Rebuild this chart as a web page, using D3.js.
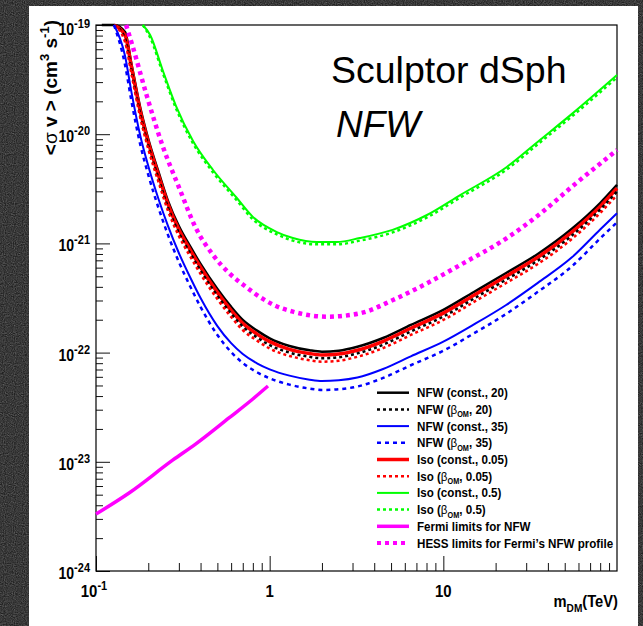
<!DOCTYPE html>
<html>
<head>
<meta charset="utf-8">
<script src="https://d3js.org/d3.v7.min.js"></script>
<style>
  body { margin: 0; background: #232323; }
  text { font-family: 'Liberation Sans', Arial, sans-serif; }
</style>
</head>
<body>
<div id="chart"></div>
<script>
var width = 643, height = 626;

// masses (TeV) shared by the NFW / Iso 0.05 curves
var massGrid = [0.108, 0.127, 0.147, 0.16, 0.18, 0.2, 0.23, 0.26, 0.3, 0.35, 0.4, 0.5, 0.6, 0.7, 0.85,
                1, 1.3, 1.7, 2, 2.5, 3.2, 4.5, 6.5, 10, 15, 23, 35, 55, 80, 100];

var nfwConst20 = [1e-19, 1e-19, 8.63e-20, 4.40e-20, 1.74e-20, 9.04e-21, 4.42e-21, 2.44e-21, 1.44e-21, 9.27e-22,
                  6.48e-22, 3.82e-22, 2.62e-22, 1.99e-22, 1.58e-22, 1.35e-22, 1.15e-22, 1.05e-22, 1.02e-22, 1.04e-22,
                  1.13e-22, 1.36e-22, 1.79e-22, 2.46e-22, 3.59e-22, 5.36e-22, 8.00e-22, 1.36e-21, 2.34e-21, 3.43e-21];
var nfwBeta20 = [null, 1e-19, 7.51e-20, 3.83e-20, 1.51e-20, 7.86e-21, 3.85e-21, 2.12e-21, 1.25e-21, 8.06e-22,
                 5.64e-22, 3.32e-22, 2.28e-22, 1.73e-22, 1.37e-22, 1.17e-22, 1.00e-22, 9.14e-23, 8.87e-23, 9.05e-23,
                 9.83e-23, 1.18e-22, 1.56e-22, 2.14e-22, 3.12e-22, 4.66e-22, 6.96e-22, 1.18e-21, 2.04e-21, 2.98e-21];
var nfwConst35 = [null, 1e-19, 5.20e-20, 2.43e-20, 9.64e-21, 5.12e-21, 2.50e-21, 1.44e-21, 8.17e-22, 4.82e-22,
                  3.16e-22, 1.75e-22, 1.22e-22, 9.71e-23, 7.94e-23, 7.03e-23, 6.15e-23, 5.65e-23, 5.50e-23, 5.58e-23,
                  5.91e-23, 7.08e-23, 9.25e-23, 1.26e-22, 1.81e-22, 2.73e-22, 4.35e-22, 7.45e-22, 1.34e-21, 1.89e-21];
var nfwBeta35 = [null, 1e-19, 4.31e-20, 2.01e-20, 7.98e-21, 4.24e-21, 2.07e-21, 1.19e-21, 6.76e-22, 3.99e-22,
                 2.62e-22, 1.45e-22, 1.01e-22, 8.04e-23, 6.57e-23, 5.82e-23, 5.09e-23, 4.68e-23, 4.55e-23, 4.62e-23,
                 4.89e-23, 5.86e-23, 7.66e-23, 1.04e-22, 1.50e-22, 2.26e-22, 3.60e-22, 6.17e-22, 1.11e-21, 1.56e-21];
var isoConst005 = [null, 1e-19, 8.05e-20, 4.11e-20, 1.62e-20, 8.43e-21, 4.12e-21, 2.28e-21, 1.34e-21, 8.65e-22,
                   6.05e-22, 3.56e-22, 2.44e-22, 1.86e-22, 1.47e-22, 1.26e-22, 1.07e-22, 9.80e-23, 9.52e-23, 9.70e-23,
                   1.05e-22, 1.27e-22, 1.67e-22, 2.30e-22, 3.35e-22, 5.00e-22, 7.46e-22, 1.27e-21, 2.18e-21, 3.20e-21];
var isoBeta005 = [null, 1e-19, 6.99e-20, 3.56e-20, 1.41e-20, 7.32e-21, 3.58e-21, 1.98e-21, 1.17e-21, 7.51e-22,
                  5.25e-22, 3.09e-22, 2.12e-22, 1.61e-22, 1.28e-22, 1.09e-22, 9.32e-23, 8.51e-23, 8.26e-23, 8.42e-23,
                  9.15e-23, 1.10e-22, 1.45e-22, 1.99e-22, 2.91e-22, 4.34e-22, 6.48e-22, 1.10e-21, 1.90e-21, 2.78e-21];

// Iso 0.5 curves
var isoMass05 = [0.186, 0.205, 0.243, 0.289, 0.362, 0.472, 0.64, 0.8, 1.1, 1.36, 1.87, 2.44, 3.3, 5.1, 8.05,
                 12.5, 23.2, 36, 55.7, 100];
var isoConst05 = [1e-19, 8.10e-20, 3.79e-20, 1.81e-20, 8.67e-21, 4.70e-21, 2.66e-21, 1.75e-21, 1.27e-21, 1.12e-21,
                  1.03e-21, 1.03e-21, 1.12e-21, 1.33e-21, 1.82e-21, 2.77e-21, 5.01e-21, 8.85e-21, 1.56e-20, 3.48e-20];
var isoBeta05 = [1e-19, 7.7e-20, 3.6e-20, 1.72e-20, 8.24e-21, 4.47e-21, 2.53e-21, 1.66e-21, 1.21e-21, 1.06e-21,
                 9.8e-22, 9.8e-22, 1.06e-21, 1.26e-21, 1.73e-21, 2.63e-21, 4.76e-21, 8.4e-21, 1.48e-20, 3.31e-20];

// HESS limits for Fermi's NFW profile
var hessMass = [0.149, 0.163, 0.194, 0.243, 0.3, 0.376, 0.472, 0.583, 0.731, 0.915, 1.087, 1.362, 2.14, 3.31,
                5.13, 8.05, 12.5, 23.2, 36, 55.7, 100];
var hessNFW = [1e-19, 6.29e-20, 2.38e-20, 7.64e-21, 3.28e-21, 1.38e-21, 7.83e-22, 5.36e-22, 3.99e-22, 3.10e-22,
               2.67e-22, 2.37e-22, 2.13e-22, 2.29e-22, 3.03e-22, 4.31e-22, 6.34e-22, 1.12e-21, 1.86e-21, 3.36e-21, 7.16e-21];

// Fermi limits for NFW
var fermiMass = [0.1, 0.155, 0.2775, 0.376, 0.583, 0.8, 0.978];
var fermiNFW = [3.32e-24, 5.18e-24, 1.04e-23, 1.46e-23, 2.52e-23, 3.76e-23, 4.94e-23];

var yDecades = [-24, -23, -22, -21, -20, -19];
var xMajor = [0.1, 1, 10];

var svg = d3.select("#chart").append("svg").attr("width", width).attr("height", height);

// speckled dark backdrop, then the white canvas
var defs = svg.append("defs");
var f = defs.append("filter").attr("id", "grain").attr("x", 0).attr("y", 0).attr("width", 1).attr("height", 1);
f.append("feTurbulence").attr("type", "fractalNoise").attr("baseFrequency", 0.9).attr("numOctaves", 1).attr("seed", 3);
f.append("feColorMatrix").attr("type", "matrix")
  .attr("values", "0 0 0 0 0.3  0 0 0 0 0.3  0 0 0 0 0.3  0.5 0.5 0.5 0 -0.55");
svg.append("rect").attr("width", width).attr("height", height).attr("fill", "#222");
svg.append("rect").attr("width", width).attr("height", height).attr("filter", "url(#grain)");
svg.append("rect").attr("x", 29).attr("y", 6).attr("width", 609).attr("height", 620).attr("fill", "#fff");

var x = d3.scaleLog().domain([0.1, 100]).range([96, 617]);
var y = d3.scaleLog().domain([1e-24, 1e-19]).range([571, 25]);

// minor ticks
var xMinor = [], yMinor = [];
[0.1, 1, 10].forEach(function(d) { for (var k = 2; k <= 9; k++) xMinor.push(d * k); });
yDecades.slice(0, 5).forEach(function(e) { for (var k = 2; k <= 9; k++) yMinor.push(k * Math.pow(10, e)); });

var axes = svg.append("g");
axes.append("g").attr("transform", "translate(96,0)")
  .call(d3.axisRight(y).tickValues(yDecades.map(function(e) { return Math.pow(10, e); })).tickSize(14).tickFormat(""));
axes.append("g").attr("transform", "translate(96,0)")
  .call(d3.axisRight(y).tickValues(yMinor).tickSize(7).tickFormat(""));
axes.append("g").attr("transform", "translate(0,571)")
  .call(d3.axisTop(x).tickValues(xMajor).tickSize(15).tickFormat(""));
axes.append("g").attr("transform", "translate(0,571)")
  .call(d3.axisTop(x).tickValues(xMinor).tickSize(8).tickFormat(""));
axes.selectAll(".domain").remove();
axes.selectAll("line").attr("stroke", "#111").attr("stroke-width", 1);

// frame
svg.append("rect").attr("x", 96).attr("y", 25).attr("width", 521).attr("height", 546)
  .attr("fill", "none").attr("stroke", "#000").attr("stroke-width", 1.2);

var line = d3.line()
  .defined(function(d) { return d[1] != null; })
  .x(function(d) { return x(d[0]); })
  .y(function(d) { return y(d[1]); })
  .curve(d3.curveMonotoneX);

function pairs(ms, vs) { return ms.map(function(m, i) { return [m, vs[i]]; }); }

var series = [
  { data: pairs(massGrid, nfwConst20), color: "#000000", w: 2.5, dash: null },
  { data: pairs(massGrid, isoConst005), color: "#ff0000", w: 3.5, dash: null },
  { data: pairs(massGrid, nfwBeta20), color: "#000000", w: 2.5, dash: "3,3" },
  { data: pairs(massGrid, isoBeta005), color: "#ff0000", w: 2.5, dash: "3,3" },
  { data: pairs(massGrid, nfwConst35), color: "#0000ff", w: 2, dash: null },
  { data: pairs(massGrid, nfwBeta35), color: "#0000ff", w: 2.5, dash: "4,4" },
  { data: pairs(isoMass05, isoConst05), color: "#00ff00", w: 2, dash: null },
  { data: pairs(isoMass05, isoBeta05), color: "#00ff00", w: 2.5, dash: "3,3" },
  { data: pairs(fermiMass, fermiNFW), color: "#ff00ff", w: 3.5, dash: null },
  { data: pairs(hessMass, hessNFW), color: "#ff00ff", w: 4.5, dash: "4,4" }
];

svg.append("g").selectAll("path").data(series).enter().append("path")
  .attr("d", function(s) { return line(s.data); })
  .attr("fill", "none")
  .attr("stroke", function(s) { return s.color; })
  .attr("stroke-width", function(s) { return s.w; })
  .attr("stroke-dasharray", function(s) { return s.dash; });

// y tick labels
var yl = svg.append("g").selectAll("g").data(yDecades).enter().append("g")
  .attr("transform", function(e) { return "translate(90," + (y(Math.pow(10, e)) + (e === -19 ? 10 : 8)) + ") scale(0.88,1)"; });
var ylt = yl.append("text").attr("text-anchor", "end").attr("font-weight", "bold").attr("font-size", 16);
ylt.append("tspan").text("10");
ylt.append("tspan").attr("dy", -7).attr("font-size", 12.5).text(function(e) { return e; });

// x tick labels
var xl = svg.append("g").selectAll("g").data(xMajor).enter().append("g")
  .attr("transform", function(d) { return "translate(" + (x(d) - (d === 0.1 ? 2 : 0)) + ",597) scale(0.88,1)"; });
var xlt = xl.append("text").attr("text-anchor", "middle").attr("font-weight", "bold").attr("font-size", 17);
xlt.append("tspan").text(function(d) { return d === 0.1 ? "10" : d; });
xlt.filter(function(d) { return d === 0.1; }).append("tspan").attr("dy", -7).attr("font-size", 12.5).text("-1");

// x axis title
var xt = svg.append("text").attr("transform", "translate(618,607) scale(0.92,1)")
  .attr("text-anchor", "end").attr("font-weight", "bold").attr("font-size", 16);
xt.append("tspan").text("m");
xt.append("tspan").attr("dy", 5).attr("font-size", 11).text("DM");
xt.append("tspan").attr("dy", -5).text("(TeV)");

// y axis title
var yt = svg.append("text").attr("transform", "translate(57,20) rotate(-90)")
  .attr("text-anchor", "end").attr("font-weight", "bold").attr("font-size", 19);
yt.append("tspan").text("<");
yt.append("tspan").attr("font-weight", "normal").text("\u03c3");
yt.append("tspan").text(" v > (cm");
yt.append("tspan").attr("dy", -8).attr("font-size", 13).text("3");
yt.append("tspan").attr("dy", 8).text(" s");
yt.append("tspan").attr("dy", -8).attr("font-size", 13).text("-1");
yt.append("tspan").attr("dy", 8).text(")");

// plot annotations
svg.append("text").attr("x", 331).attr("y", 83).attr("font-size", 37.5).attr("fill", "#000").text("Sculptor dSph");
svg.append("text").attr("x", 336).attr("y", 137).attr("font-size", 37).attr("font-style", "italic").text("NFW");

// legend
var legendLabels = ["NFW (const., 20)", "NFW (\u03b2_OM, 20)", "NFW (const., 35)", "NFW (\u03b2_OM, 35)",
                    "Iso (const., 0.05)", "Iso (\u03b2_OM, 0.05)", "Iso (const., 0.5)", "Iso (\u03b2_OM, 0.5)",
                    "Fermi limits for NFW", "HESS limits for Fermi\u2019s NFW profile"];
var legendStyle = [series[0], series[2], series[4], series[5], series[1], series[3], series[6], series[7], series[8], series[9]];

var leg = svg.append("g").selectAll("g").data(legendLabels).enter().append("g")
  .attr("transform", function(d, i) { return "translate(0," + (392.7 + i * 16.7) + ")"; });
leg.append("line").attr("x1", 377).attr("x2", 409).attr("y1", 0).attr("y2", 0)
  .attr("stroke", function(d, i) { return legendStyle[i].color; })
  .attr("stroke-width", function(d, i) { return Math.min(legendStyle[i].w, 4); })
  .attr("stroke-dasharray", function(d, i) { return legendStyle[i].dash; });
var lt = leg.append("text").attr("transform", "translate(417,4.5) scale(0.86,1)")
  .attr("font-weight", "bold").attr("font-size", 13.5);
lt.each(function(d) {
  var t = d3.select(this);
  var k = d.indexOf("\u03b2_OM");
  if (k < 0) { t.text(d); return; }
  t.append("tspan").text(d.slice(0, k));
  t.append("tspan").attr("font-weight", "normal").text("\u03b2");
  t.append("tspan").attr("dy", 3.5).attr("font-size", 8.5).text("OM");
  t.append("tspan").attr("dy", -3.5).text(d.slice(k + 4));
});
</script>
</body>
</html>
